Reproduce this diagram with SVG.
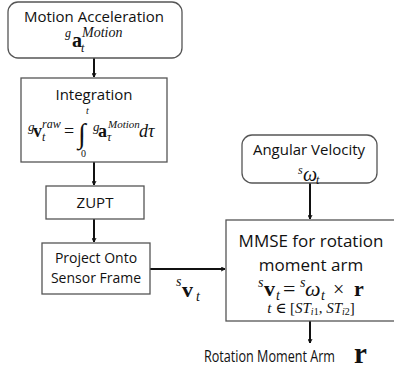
<svg xmlns="http://www.w3.org/2000/svg" width="394" height="374" viewBox="0 0 394 374">
<style>
.box{fill:#fff;stroke:#555;stroke-width:1.3}
.lbl{font-family:"Open Sans","Liberation Sans",sans-serif;fill:#111;text-anchor:middle}
.m{font-family:"Liberation Serif","DejaVu Serif",serif;fill:#111}
.i{font-style:italic}
.b{font-weight:bold}
.conn{stroke:#111;stroke-width:2;fill:none}
</style>
<defs>
<marker id="ah" viewBox="0 0 10 10" refX="9" refY="5" markerWidth="5" markerHeight="5" orient="auto" markerUnits="userSpaceOnUse">
<polyline points="1,1 9,5 1,9" fill="none" stroke="#111" stroke-width="2"/>
</marker>
</defs>
<rect width="394" height="374" fill="#fff"/>
<g id="connectors">
<line class="conn" x1="94" y1="58" x2="94" y2="77" marker-end="url(#ah)"/>
<line class="conn" x1="94" y1="162" x2="94" y2="185" marker-end="url(#ah)"/>
<line class="conn" x1="94" y1="219" x2="94" y2="242" marker-end="url(#ah)"/>
<line class="conn" x1="150" y1="269" x2="225" y2="269" marker-end="url(#ah)"/>
<line class="conn" x1="310" y1="183" x2="310" y2="219" marker-end="url(#ah)"/>
<line class="conn" x1="310" y1="321" x2="310" y2="343" marker-end="url(#ah)"/>
</g>
<g id="motion">
<rect class="box" x="8" y="2" width="174" height="56" rx="10"/>
<text class="lbl" x="94" y="22" font-size="15">Motion Acceleration</text>
<text class="m i" x="65" y="37" font-size="12">g</text>
<text class="m b" x="72" y="47" font-size="20">a</text>
<text class="m i" x="81" y="52" font-size="12">t</text>
<text class="m i" x="82" y="37" font-size="14">Motion</text>
</g>
<g id="integration">
<rect class="box" x="21" y="78" width="146" height="84"/>
<text class="lbl" x="94" y="100" font-size="15">Integration</text>
<text class="m i" x="28" y="131" font-size="13">g</text>
<text class="m b" x="33" y="137" font-size="18">v</text>
<text class="m i" x="42" y="141" font-size="12">t</text>
<text class="m i" x="42" y="128" font-size="12">raw</text>
<text class="m" x="64" y="137" font-size="18">=</text>
<text class="m" x="78" y="143" font-size="28">∫</text>
<text class="m i" x="86" y="114" font-size="10">t</text>
<text class="m" x="81" y="157" font-size="10">0</text>
<text class="m i" x="93" y="131" font-size="13">g</text>
<text class="m b" x="98" y="137" font-size="18">a</text>
<text class="m i" x="107" y="141" font-size="12">τ</text>
<text class="m i" x="108" y="128" font-size="11">Motion</text>
<text class="m i" x="139" y="137" font-size="18">dτ</text>
</g>
<g id="zupt">
<rect class="box" x="46" y="186" width="98" height="33"/>
<text class="lbl" x="95" y="208" font-size="15">ZUPT</text>
</g>
<g id="project">
<rect class="box" x="42" y="243" width="108" height="51"/>
<text class="lbl" x="96" y="263" font-size="14">Project Onto</text>
<text class="lbl" x="96" y="283" font-size="14">Sensor Frame</text>
</g>
<g id="sv-label">
<text class="m i" x="176" y="286" font-size="14">s</text>
<text class="m b" x="182" y="297" font-size="22">v</text>
<text class="m i" x="196" y="301" font-size="14">t</text>
</g>
<g id="angular">
<rect class="box" x="242" y="135" width="135" height="48" rx="10"/>
<text class="lbl" x="309" y="155" font-size="15">Angular Velocity</text>
<text class="m i" x="298" y="174" font-size="12">s</text>
<text class="m i" x="303" y="181" font-size="20">ω</text>
<text class="m i" x="316" y="184" font-size="12">t</text>
</g>
<g id="mmse">
<rect class="box" x="226" y="220" width="180" height="101"/>
<text class="lbl" x="311" y="247" font-size="17">MMSE for rotation</text>
<text class="lbl" x="311" y="271" font-size="17">moment arm</text>
<text class="m i" x="258" y="287" font-size="14">s</text>
<text class="m b" x="264" y="296" font-size="22">v</text>
<text class="m i" x="276" y="300" font-size="14">t</text>
<text class="m" x="283" y="296" font-size="22">=</text>
<text class="m i" x="300" y="287" font-size="14">s</text>
<text class="m i" x="305" y="296" font-size="22">ω</text>
<text class="m i" x="321" y="300" font-size="14">t</text>
<text class="m" x="333" y="296" font-size="20">×</text>
<text class="m b" x="354" y="296" font-size="22">r</text>
<text class="m" x="311" y="313" font-size="15" text-anchor="middle"><tspan class="i">t</tspan> ∈ [<tspan class="i">ST</tspan><tspan class="i" font-size="10" dy="2">i</tspan><tspan font-size="10">1</tspan><tspan dy="-2">, </tspan><tspan class="i">ST</tspan><tspan class="i" font-size="10" dy="2">i</tspan><tspan font-size="10">2</tspan><tspan dy="-2">]</tspan></text>
</g>
<g id="output">
<text class="lbl" x="269.5" y="362" font-size="16" textLength="131" lengthAdjust="spacingAndGlyphs">Rotation Moment Arm</text>
<text class="m b" x="354" y="363" font-size="29">r</text>
</g>
</svg>
